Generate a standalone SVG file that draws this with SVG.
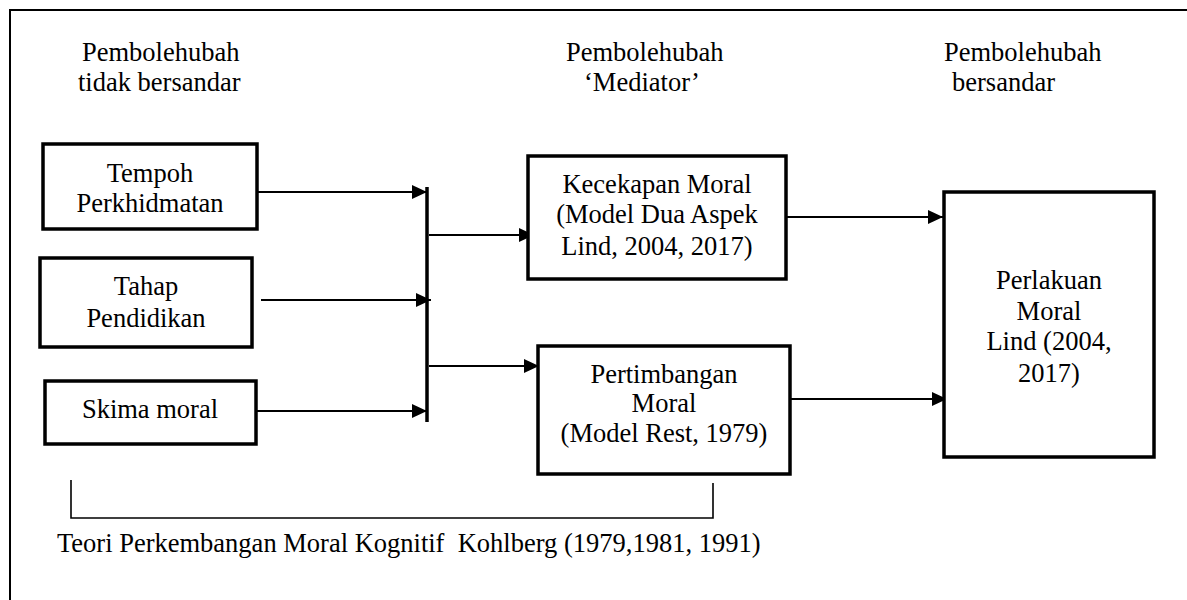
<svg xmlns="http://www.w3.org/2000/svg" width="1187" height="600" viewBox="0 0 1187 600">
<style>
text{font-family:"Liberation Serif","Times New Roman",serif;font-size:26.5px;fill:#000}
.c{text-anchor:middle}
.box{fill:#fff;stroke:#000;stroke-width:3.5}
.ln{stroke:#000;stroke-width:2;fill:none}
.thin{stroke:#000;stroke-width:1.6;fill:none}
</style>
<defs>
<marker id="ah" markerUnits="userSpaceOnUse" markerWidth="16" markerHeight="15" refX="15" refY="7" orient="auto">
<path d="M0,0 L15,7 L0,14 Z" fill="#000"/>
</marker>
</defs>
<rect width="1187" height="600" fill="#fff"/>
<path class="ln" d="M10,600 V10 H1187"/>
<g id="headers">
<text x="82" y="61">Pembolehubah</text>
<text x="78" y="91">tidak bersandar</text>
<text x="566" y="61">Pembolehubah</text>
<text x="584" y="91">‘Mediator’</text>
<text x="944" y="61">Pembolehubah</text>
<text x="952" y="91">bersandar</text>
</g>
<g id="connectors">
<line x1="427" y1="187" x2="427" y2="422" stroke="#000" stroke-width="3.5"/>
<line class="ln" x1="257" y1="192" x2="427" y2="192" marker-end="url(#ah)"/>
<line class="ln" x1="261" y1="300" x2="431" y2="300" marker-end="url(#ah)"/>
<line class="ln" x1="257" y1="411" x2="427" y2="411" marker-end="url(#ah)"/>
<line class="ln" x1="429" y1="235" x2="534" y2="235" marker-end="url(#ah)"/>
<line class="ln" x1="429" y1="366" x2="539" y2="366" marker-end="url(#ah)"/>
<line class="ln" x1="786" y1="217" x2="943" y2="217" marker-end="url(#ah)"/>
<line class="ln" x1="791" y1="399" x2="947" y2="399" marker-end="url(#ah)"/>
<path class="thin" d="M71,480 V518 H713 V483"/>
</g>
<g id="tempoh">
<rect class="box" x="43" y="144" width="214" height="85"/>
<text class="c" x="150" y="182">Tempoh</text>
<text class="c" x="150" y="212">Perkhidmatan</text>
</g>
<g id="tahap">
<rect class="box" x="40" y="258" width="212" height="89"/>
<text class="c" x="146" y="295">Tahap</text>
<text class="c" x="146" y="327">Pendidikan</text>
</g>
<g id="skima">
<rect class="box" x="45" y="381" width="211" height="63"/>
<text class="c" x="150" y="418">Skima moral</text>
</g>
<g id="kecekapan">
<rect class="box" x="528" y="156" width="258" height="123"/>
<text class="c" x="657" y="193">Kecekapan Moral</text>
<text class="c" x="657" y="223">(Model Dua Aspek</text>
<text class="c" x="657" y="255">Lind, 2004, 2017)</text>
</g>
<g id="pertimbangan">
<rect class="box" x="538" y="346" width="252" height="128"/>
<text class="c" x="664" y="383">Pertimbangan</text>
<text class="c" x="664" y="412">Moral</text>
<text class="c" x="664" y="442">(Model Rest, 1979)</text>
</g>
<g id="perlakuan">
<rect class="box" x="944" y="192" width="210" height="265"/>
<text class="c" x="1049" y="289">Perlakuan</text>
<text class="c" x="1049" y="320">Moral</text>
<text class="c" x="1049" y="350">Lind (2004,</text>
<text class="c" x="1049" y="382">2017)</text>
</g>
<g id="theory">
<text x="57" y="552" xml:space="preserve">Teori Perkembangan Moral Kognitif  Kohlberg (1979,1981, 1991)</text>
</g>
</svg>
